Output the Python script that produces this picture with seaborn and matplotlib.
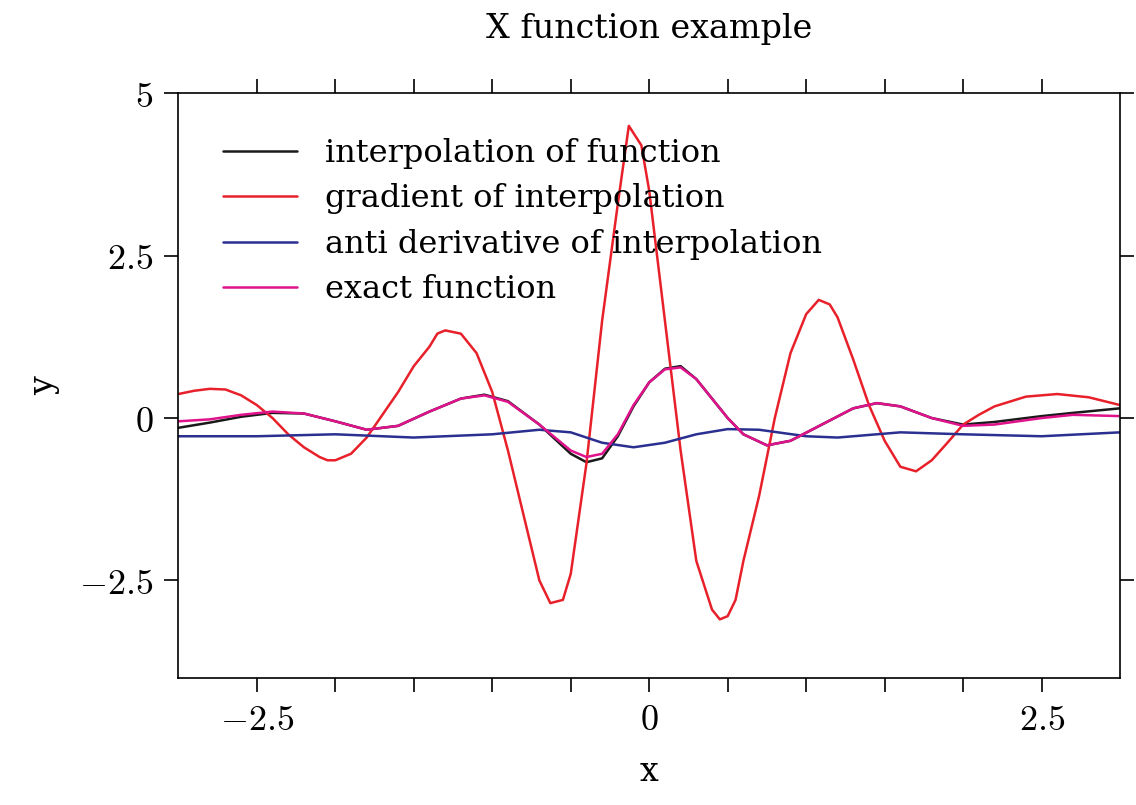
import numpy as np
import pandas as pd
import matplotlib
matplotlib.use("Agg")
import matplotlib.pyplot as plt
import seaborn as sns
from matplotlib.ticker import MultipleLocator

# 数据
x_grad = [-3.0, -2.9, -2.8, -2.7, -2.6, -2.5, -2.4, -2.3, -2.2, -2.1, -2.05, -2.0, -1.9,
          -1.8, -1.7, -1.6, -1.5, -1.4, -1.35, -1.3, -1.2, -1.1, -1.0, -0.9,
          -0.8, -0.7, -0.63, -0.55, -0.5, -0.4, -0.3, -0.2, -0.13, -0.05, 0.0, 0.1, 0.2,
          0.3, 0.4, 0.45, 0.5, 0.55, 0.6, 0.7, 0.8, 0.9, 1.0, 1.08, 1.15, 1.2, 1.3, 1.4,
          1.5, 1.6, 1.7, 1.8, 1.9, 2.0, 2.1, 2.2, 2.4, 2.6, 2.8, 3.0]
y_grad = [0.37, 0.42, 0.45, 0.44, 0.35, 0.2, 0.0, -0.25, -0.45, -0.6, -0.65, -0.65, -0.55,
          -0.3, 0.05, 0.4, 0.8, 1.1, 1.3, 1.35, 1.3, 1.0, 0.4, -0.5,
          -1.5, -2.5, -2.85, -2.8, -2.4, -0.7, 1.5, 3.3, 4.5, 4.2, 3.5, 1.5, -0.5,
          -2.2, -2.95, -3.1, -3.05, -2.8, -2.2, -1.2, 0.0, 1.0, 1.6, 1.82, 1.75, 1.55, 0.9, 0.2,
          -0.35, -0.75, -0.82, -0.65, -0.38, -0.1, 0.05, 0.18, 0.33, 0.37, 0.32, 0.2]

x_exact = [-3.0, -2.8, -2.6, -2.4, -2.2, -2.0, -1.8, -1.6, -1.4, -1.2, -1.05, -0.9, -0.7,
           -0.5, -0.4, -0.3, -0.2, -0.1, 0.0, 0.1, 0.2, 0.3, 0.4, 0.5, 0.6, 0.75, 0.9,
           1.1, 1.3, 1.45, 1.6, 1.8, 2.0, 2.2, 2.5, 2.7, 3.0]
y_exact = [-0.05, -0.02, 0.05, 0.1, 0.07, -0.05, -0.18, -0.12, 0.1, 0.3, 0.35, 0.25, -0.1,
           -0.5, -0.6, -0.55, -0.25, 0.2, 0.55, 0.75, 0.78, 0.6, 0.3, 0.0, -0.25, -0.42,
           -0.35, -0.1, 0.15, 0.23, 0.18, 0.0, -0.12, -0.1, 0.0, 0.05, 0.03]
y_interp = [-0.15, -0.07, 0.02, 0.08, 0.07, -0.05, -0.18, -0.12, 0.1, 0.3, 0.36, 0.26,
            -0.1, -0.55, -0.68, -0.62, -0.28, 0.18, 0.55, 0.76, 0.8, 0.6, 0.3, 0.0, -0.25,
            -0.42, -0.35, -0.1, 0.15, 0.23, 0.18, 0.0, -0.1, -0.06, 0.03, 0.08, 0.15]

x_anti = [-3.0, -2.5, -2.0, -1.5, -1.0, -0.7, -0.5, -0.3, -0.1, 0.1, 0.3, 0.5, 0.7, 1.0,
          1.2, 1.6, 2.0, 2.5, 3.0]
y_anti = [-0.28, -0.28, -0.25, -0.3, -0.25, -0.18, -0.22, -0.38, -0.45, -0.38, -0.25, -0.17,
          -0.18, -0.28, -0.3, -0.22, -0.25, -0.28, -0.22]

sns.set_theme(style="white")
plt.rcParams['font.family'] = ['DejaVu Serif']
plt.rcParams['mathtext.fontset'] = 'cm'
plt.rcParams['text.color'] = 'black'
plt.rcParams['axes.labelcolor'] = 'black'

fig = plt.figure(figsize=(11.36, 8.05), dpi=100)
ax = fig.add_axes([0.157, 0.158, 0.829, 0.726])

lw = 1.8
sns.lineplot(x=x_exact, y=y_interp, ax=ax, color='#1a1a1a', lw=lw, label='interpolation of function')
sns.lineplot(x=x_grad, y=y_grad, ax=ax, color='#e8202a', lw=lw, label='gradient of interpolation')
sns.lineplot(x=x_anti, y=y_anti, ax=ax, color='#2b2f8f', lw=lw, label='anti derivative of interpolation')
sns.lineplot(x=x_exact, y=y_exact, ax=ax, color='#e0128c', lw=lw, label='exact function')

ax.set_xlim(-3, 3)
ax.set_ylim(-4, 5)
ax.set_xticks([-2.5, -2, -1.5, -1, -0.5, 0, 0.5, 1, 1.5, 2, 2.5])
ax.set_xticklabels(['$-2.5$', '', '', '', '', '$0$', '', '', '', '', '$2.5$'])
ax.set_yticks([-2.5, 0, 2.5, 5])
ax.set_yticklabels(['$-2.5$', '$0$', '$2.5$', '$5$'])
ax.tick_params(axis='both', which='both', direction='out', length=10, width=1.2,
               top=True, right=True, bottom=True, left=True, labelsize=26,
               colors='black', pad=8)
for s in ax.spines.values():
    s.set_color('black')
    s.set_linewidth(1.2)

ax.set_xlabel('x', fontsize=24, labelpad=14)
ax.set_ylabel('y', fontsize=24, labelpad=14)
ax.set_title('X function example', fontsize=24, pad=40)

leg = ax.legend(loc='upper left', frameon=False, fontsize=23, handlelength=2.3,
                borderaxespad=1.0, labelspacing=0.45, handletextpad=0.9)

fig.savefig('out.png', dpi=100)
